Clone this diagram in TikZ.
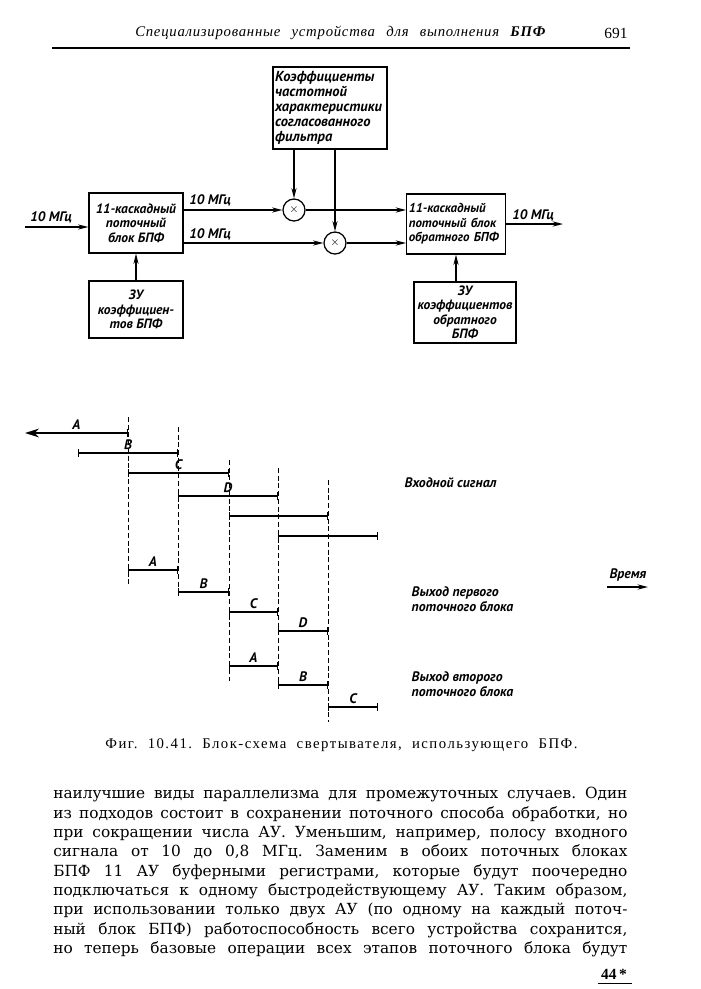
\documentclass[tikz,border=0pt]{standalone}
\usepackage{fontspec}
\setmainfont{DejaVu Serif}
\newfontfamily\diafont{PT Sans}
\newfontfamily\headfont[LetterSpace=5]{Liberation Serif}
\newfontfamily\capfont[LetterSpace=10]{Liberation Serif}
\newfontfamily\numfont{Liberation Serif}
\usetikzlibrary{arrows.meta,positioning}
\newcommand{\jline}[1]{\makebox[14.35cm][s]{#1}}
\frenchspacing

\begin{document}
\begin{tikzpicture}[
    x=0.025cm, y=-0.025cm,
    box/.style={rectangle,draw,line width=0.9pt,inner sep=1.5pt,align=center,
      font={\diafont\itshape\bfseries\fontsize{9.6}{10.3}\selectfont}},
    mult/.style={circle,draw,line width=0.9pt,minimum size=0.55cm,inner sep=0pt,
      font=\footnotesize},
    arr/.style={-{Stealth[length=2.6mm,width=1.3mm]},line width=1pt},
    lab/.style={font={\diafont\itshape\bfseries\fontsize{9.8}{10.8}\selectfont},inner sep=1pt},
    tlab/.style={lab,above=1pt},
    dline/.style={dash pattern=on 3.5pt off 2pt,line width=0.7pt},
    seg/.style={{Bar[width=5pt]}-{Bar[width=5pt]},line width=0.9pt}
  ]
    \useasboundingbox (0,0) rectangle (700,989);

    % running head
    \node[anchor=west,inner sep=0pt] (head) at (135,33)
      {\headfont\itshape\fontsize{10.5}{12}\selectfont\makebox[10.25cm][s]{Специализированные устройства для выполнения \textbf{БПФ}}};
    \node[inner sep=0pt] (pnum) at (616,33) {\numfont\fontsize{11}{12}\selectfont 691};
    \draw[line width=0.8pt] (52,48) -- (630,48);

    % block diagram
    \node[box,minimum width=2.35cm,minimum height=1.5cm] (fft) at (136,223) {11-каскадный\\поточный\\блок БПФ};
    \node[box,minimum width=2.35cm,minimum height=1.425cm] (fftmem) at (136,309.5) {ЗУ\\коэффициен-\\тов БПФ};
    \node[box,align=left,text width=2.74cm,minimum height=2.05cm,
      font={\diafont\itshape\bfseries\fontsize{10.3}{10.6}\selectfont}] (coef) at (330,108)
      {Коэффициенты\\частотной\\характеристики\\согласованного\\фильтра};
    \node[mult] (mul1) at (294,210) {$\times$};
    \node[mult] (mul2) at (335,243) {$\times$};
    \node[box,align=left,text width=2.36cm,minimum height=1.5cm,
      font={\diafont\itshape\bfseries\fontsize{9.2}{10.3}\selectfont}] (ifft) at (456,224)
      {11-каскадный\\поточный блок\\обратного БПФ};
    \node[box,minimum width=2.55cm,minimum height=1.525cm] (ifftmem) at (465,312.5)
      {ЗУ\\коэффициентов\\обратного\\БПФ};

    \node[lab] (fin) at (51,217) {10 МГц};
    \node[lab] (f1) at (210,200) {10 МГц};
    \node[lab] (f2) at (210,234) {10 МГц};
    \node[lab] (fout) at (533,215) {10 МГц};
    \coordinate (in) at (25,227);
    \coordinate (out) at (563,224);

    \draw[arr] (in) -- (in -| fft.west);
    \draw[arr] (fft.east |- mul1) -- (mul1);
    \draw[arr] (fft.east |- mul2) -- (mul2);
    \draw[arr] (mul1) -- (mul1 -| ifft.west);
    \draw[arr] (mul2) -- (mul2 -| ifft.west);
    \draw[arr] (coef.south -| mul1) -- (mul1);
    \draw[arr] (coef.south -| mul2) -- (mul2);
    \draw[arr] (fftmem) -- (fft);
    \draw[arr] (ifftmem.north -| ifft.south) -- (ifft.south);
    \draw[arr] (ifft.east) -- (ifft.east -| out);

    % timing diagram
    \draw[dline] (128,417) -- (128,587);
    \draw[dline] (178,427) -- (178,597);
    \draw[dline] (229,460) -- (229,683);
    \draw[dline] (278,468) -- (278,690);
    \draw[dline] (328,480) -- (328,722);

    \draw[{Stealth[length=3.5mm,width=2.2mm]}-{Bar[width=5pt]},line width=1pt]
      (25,433) -- node[tlab] (ia) {A} (128,433);
    \draw[seg] (78,453) -- node[tlab] (ib) {B} (178,453);
    \draw[seg] (128,473) -- node[tlab] (ic) {C} (229,473);
    \draw[seg] (178,496) -- node[tlab] (id) {D} (278,496);
    \draw[seg] (229,516) -- (328,516);
    \draw[seg] (278,536) -- (378,536);

    \draw[seg] (128,570) -- node[tlab] (oa) {A} (178,570);
    \draw[seg] (178,592) -- node[tlab] (ob) {B} (229,592);
    \draw[seg] (229,612) -- node[tlab] (oc) {C} (278,612);
    \draw[seg] (278,631) -- node[tlab] (od) {D} (328,631);

    \draw[seg] (229,666) -- node[tlab] (pa) {A} (278,666);
    \draw[seg] (278,685) -- node[tlab] (pb) {B} (328,685);
    \draw[seg] (328,707) -- node[tlab] (pc) {C} (378,707);

    \node[lab,anchor=west] (insig) at (403,483) {Входной сигнал};
    \node[lab,anchor=west,align=left] (out1) at (410,599) {Выход первого\\поточного блока};
    \node[lab,anchor=west,align=left] (out2) at (410,684) {Выход второго\\поточного блока};
    \node[lab] (time) at (628,575) {Время};
    \coordinate (t0) at (607,587);
    \coordinate (t1) at (648,587);
    \draw[arr] (t0) -- (t1);

    % caption and text
    \node[inner sep=0pt] (cap) at (341.5,745)
      {\capfont\fontsize{10.5}{12}\selectfont\makebox[11.8cm][s]{Фиг. 10.41. Блок-схема свертывателя, использующего БПФ.}};

    \node[anchor=north west,inner sep=0pt,align=left,font={\fontsize{10.9}{13.75}\selectfont}] (body) at (53,787) {%
      \jline{наилучшие виды параллелизма для промежуточных случаев. Один}\\
      \jline{из подходов состоит в сохранении поточного способа обработки, но}\\
      \jline{при сокращении числа АУ. Уменьшим, например, полосу входного}\\
      \jline{сигнала от 10 до 0,8 МГц. Заменим в обоих поточных блоках}\\
      \jline{БПФ 11 АУ буферными регистрами, которые будут поочередно}\\
      \jline{подключаться к одному быстродействующему АУ. Таким образом,}\\
      \jline{при использовании только двух АУ (по одному на каждый поточ-}\\
      \jline{ный блок БПФ) работоспособность всего устройства сохранится,}\\
      \jline{но теперь базовые операции всех этапов поточного блока будут}};

    \node[inner sep=0pt] (sig) at (614,974) {\numfont\bfseries\fontsize{11}{12}\selectfont 44\,*};
    \draw[line width=0.6pt] (598,983) -- (632,983);
\end{tikzpicture}
\end{document}
